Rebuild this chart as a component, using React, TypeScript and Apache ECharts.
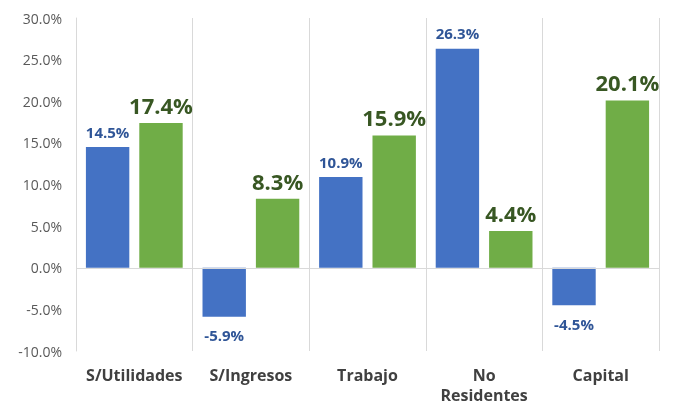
import React, { useEffect, useRef } from "react";
import * as echarts from "echarts";

const categories = ["S/Utilidades", "S/Ingresos", "Trabajo", "No\nResidentes", "Capital"];
const blueValues = [14.5, -5.9, 10.9, 26.3, -4.5];
const greenValues = [17.4, 8.3, 15.9, 4.4, 20.1];
const yTicks = { min: -10, max: 30, interval: 5 };

const FONT = "'Open Sans', Lato, sans-serif";

export default function App() {
  const ref = useRef<HTMLDivElement>(null);
  useEffect(() => {
    if (!ref.current) return;
    const chart = echarts.init(ref.current, null, { renderer: "svg" });
    const mk = (vals: number[], dist: number) =>
      vals.map((v) => ({
        value: v,
        label: v < 0 ? { position: "bottom", distance: 11 } : { position: "top", distance: dist },
      }));
    chart.setOption({
      animation: false,
      grid: { left: 76, right: 17, top: 18, bottom: 53 },
      xAxis: {
        type: "category",
        data: categories,
        axisLine: { show: false },
        axisTick: { show: false },
        splitLine: { show: true, lineStyle: { color: "#D9D9D9", width: 1 } },
        axisLabel: {
          interval: 0,
          color: "#404040",
          fontFamily: FONT,
          fontWeight: "bold",
          fontSize: 16,
          lineHeight: 20,
          margin: 14,
        },
      },
      yAxis: {
        type: "value",
        min: yTicks.min,
        max: yTicks.max,
        interval: yTicks.interval,
        axisLine: { show: true, lineStyle: { color: "#D9D9D9" } },
        axisTick: { show: false },
        splitLine: { show: false },
        axisLabel: {
          color: "#595959",
          fontFamily: FONT,
          fontSize: 14,
          margin: 14,
          formatter: (v: number) => v.toFixed(1) + "%",
        },
      },
      series: [
        {
          type: "bar",
          data: mk(blueValues, 8),
          barGap: "23%",
          barCategoryGap: "17%",
          itemStyle: { color: "#4472C4" },
          label: {
            show: true,
            color: "#2F5597",
            fontFamily: FONT,
            fontWeight: "bold",
            fontSize: 15,
            formatter: (p: any) => p.value.toFixed(1) + "%",
          },
          markLine: {
            silent: true,
            symbol: "none",
            label: { show: false },
            lineStyle: { color: "#D9D9D9", type: "solid", width: 1 },
            data: [{ yAxis: 0 }],
          },
        },
        {
          type: "bar",
          data: mk(greenValues, 7),
          barGap: "23%",
          barCategoryGap: "17%",
          itemStyle: { color: "#70AD47" },
          label: {
            show: true,
            color: "#385723",
            fontFamily: FONT,
            fontWeight: "bold",
            fontSize: 22,
            formatter: (p: any) => p.value.toFixed(1) + "%",
          },
        },
      ],
    });
    return () => chart.dispose();
  }, []);
  return (
    <div
      ref={ref}
      style={{ position: "fixed", left: 0, top: 0, width: 676, height: 405 }}
    />
  );
}
